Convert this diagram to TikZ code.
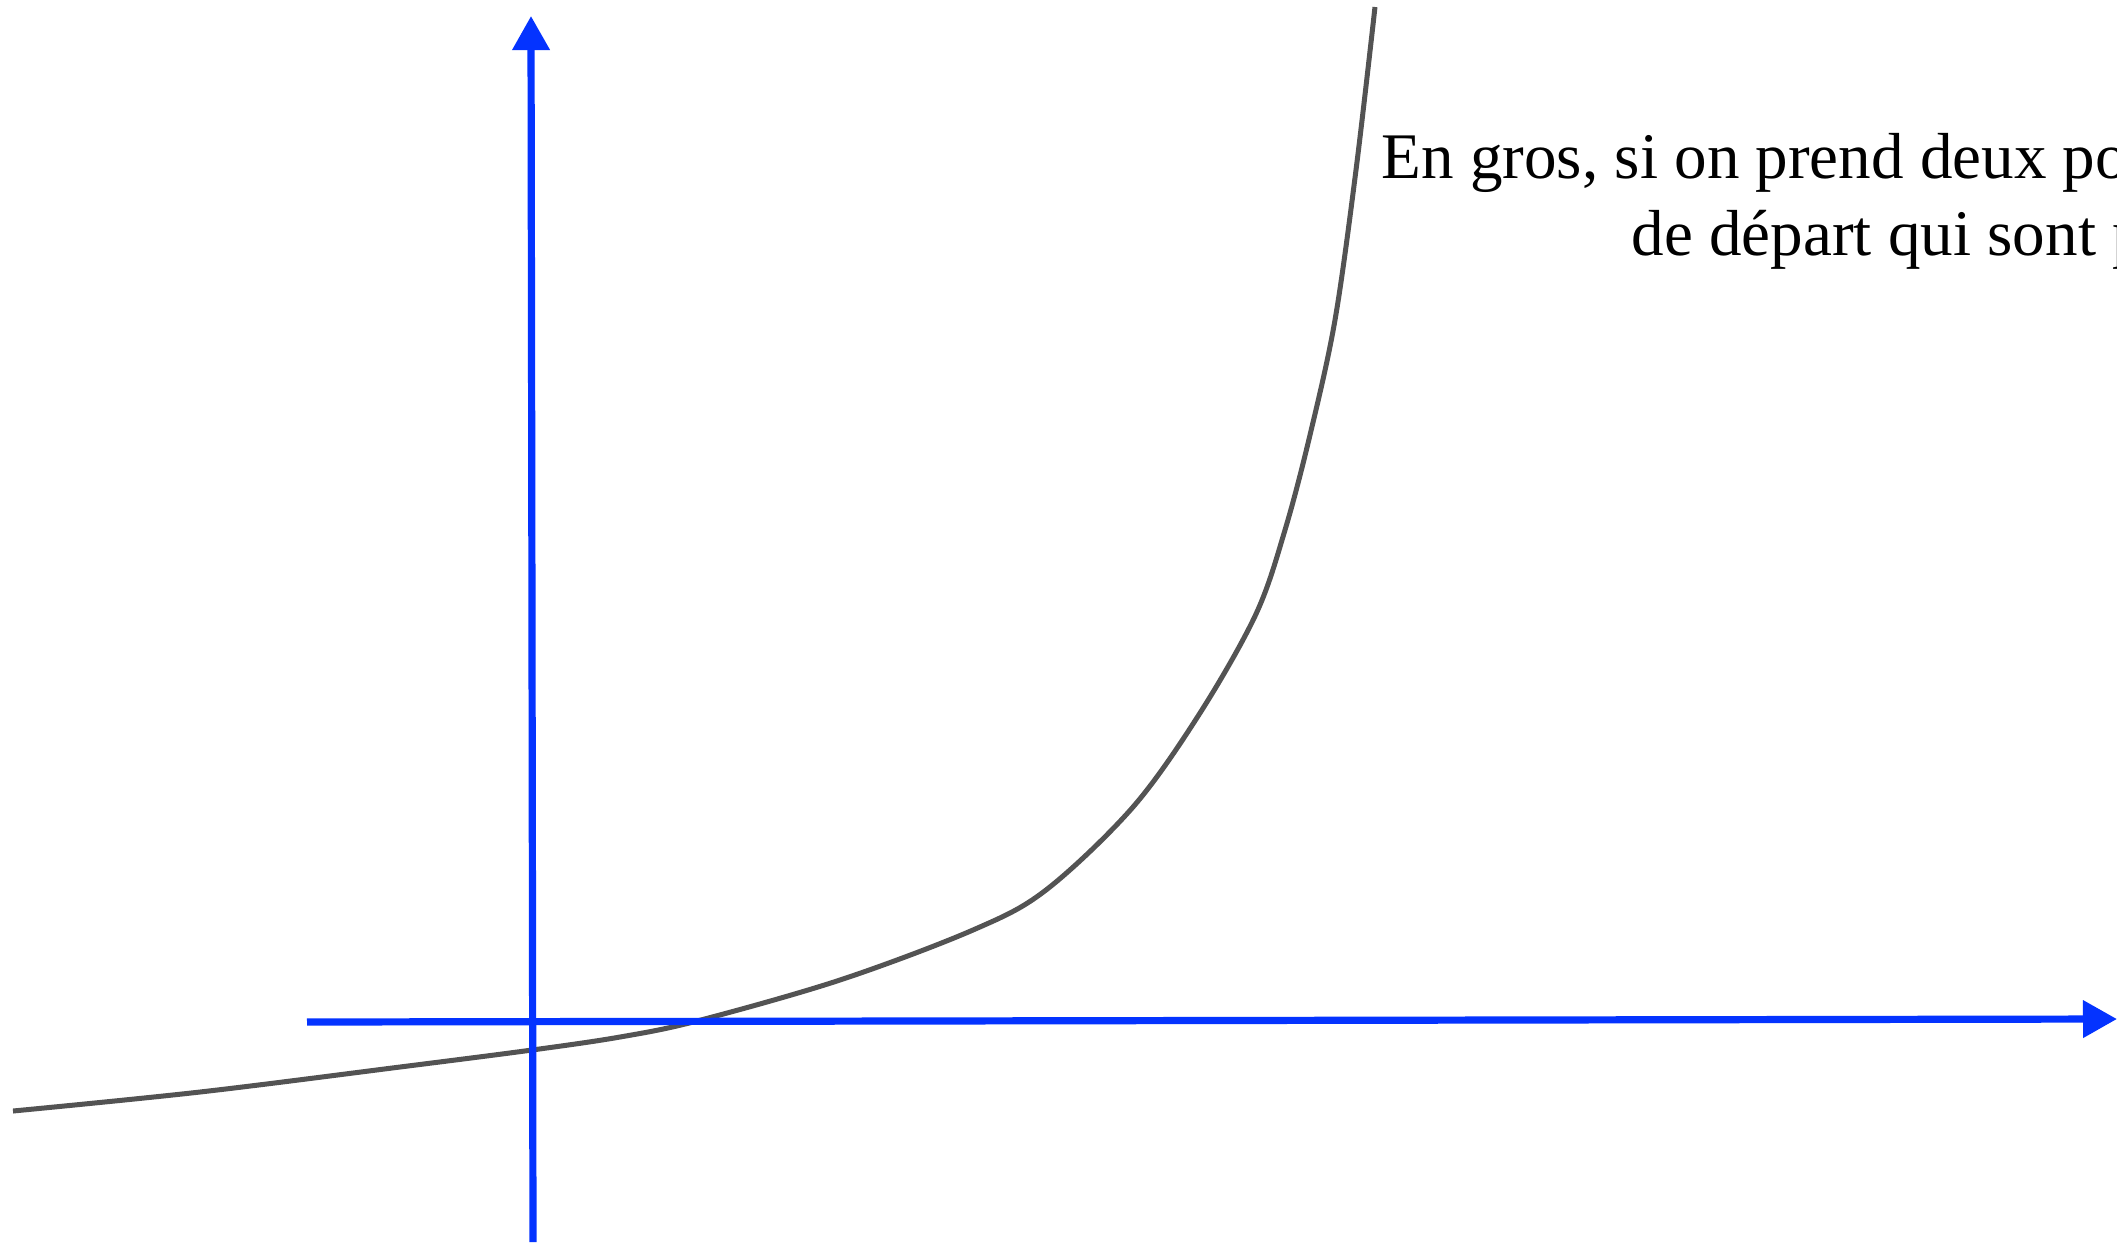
\documentclass[tikz,border=0pt]{standalone}
\usepackage{fontspec}
\setmainfont{Liberation Serif}
\usetikzlibrary{arrows.meta}
\definecolor{axisblue}{HTML}{0433FF}
\definecolor{curvegray}{HTML}{535353}
\tikzset{
  axisline/.style={draw=axisblue, line width=0.072cm, -{Triangle[length=0.34cm, width=0.36cm]}},
  curveline/.style={draw=curvegray, line width=0.05cm},
  txt/.style={anchor=base west, inner sep=0pt, font=\fontsize{18.5}{21}\selectfont}
}
\begin{document}
\begin{tikzpicture}[x=0.01cm, y=-0.01cm]
\useasboundingbox (0,0) rectangle (2117,1250);
\clip (0,0) rectangle (2117,1250);
\coordinate (xs) at (307,1022);
\coordinate (xe) at (2117,1019);
\coordinate (ys) at (533,1242);
\coordinate (ye) at (531,16);
\draw[curveline] plot[smooth, tension=0.55] coordinates {(13,1111) (200,1092) (400,1067) (532,1050) (620,1037) (697,1021) (840,980) (973,930) (1046,890) (1133,807) (1200,713) (1256,614) (1285,530) (1310,435) (1335,320) (1356,170) (1375,7)};
\draw[axisline] (xs) -- (xe);
\draw[axisline] (ys) -- (ye);
\node[txt] (t1) at (1381,178) {En gros, si on prend deux po};
\node[txt] (t2) at (1631,255) {de départ qui sont p};
\end{tikzpicture}
\end{document}
